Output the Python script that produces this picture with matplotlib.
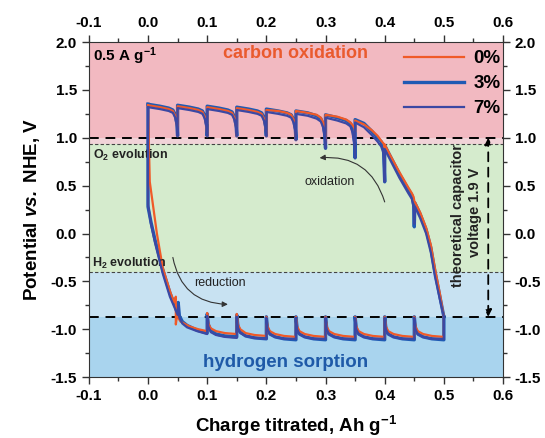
import matplotlib
matplotlib.use('Agg')
import matplotlib.pyplot as plt
from matplotlib.ticker import MultipleLocator

plt.rcParams['font.family'] = ['Liberation Sans', 'DejaVu Sans']
plt.rcParams['mathtext.fontset'] = 'custom'
plt.rcParams['mathtext.rm'] = 'Liberation Sans'
plt.rcParams['mathtext.bf'] = 'Liberation Sans:bold'
plt.rcParams['mathtext.it'] = 'Liberation Sans:italic'
plt.rcParams['mathtext.bfit'] = 'Liberation Sans:italic:bold'

# --- oxidation branch (top + right side), x grid shared by 3% and 7%
x_ox = [0.000, 0.020, 0.035, 0.042, 0.046, 0.049, 0.050,
        0.050, 0.070, 0.085, 0.092, 0.096, 0.099, 0.100,
        0.100, 0.120, 0.135, 0.142, 0.146, 0.149, 0.150,
        0.150, 0.170, 0.185, 0.192, 0.196, 0.199, 0.200,
        0.200, 0.220, 0.235, 0.242, 0.246, 0.249, 0.250,
        0.250, 0.270, 0.285, 0.292, 0.296, 0.299, 0.300,
        0.300, 0.320, 0.335, 0.342, 0.346, 0.349, 0.350,
        0.350, 0.365, 0.378, 0.388, 0.394, 0.398, 0.400,
        0.400, 0.410, 0.425, 0.440, 0.446, 0.449, 0.450,
        0.451, 0.460, 0.470, 0.478, 0.485, 0.493, 0.500]

y_ox_3 = [1.35, 1.33, 1.31, 1.29, 1.24, 1.14, 1.02,
          1.34, 1.32, 1.30, 1.28, 1.23, 1.13, 1.02,
          1.33, 1.31, 1.29, 1.27, 1.22, 1.12, 1.02,
          1.32, 1.30, 1.28, 1.26, 1.21, 1.11, 1.02,
          1.30, 1.28, 1.26, 1.24, 1.19, 1.09, 0.98,
          1.28, 1.26, 1.23, 1.20, 1.14, 1.02, 0.89,
          1.24, 1.21, 1.18, 1.15, 1.08, 0.95, 0.79,
          1.19, 1.15, 1.07, 1.00, 0.96, 0.88, 0.54,
          0.92, 0.80, 0.62, 0.46, 0.40, 0.30, 0.07,
          0.32, 0.20, 0.04, -0.15, -0.40, -0.65, -0.87]

y_ox_7 = [1.32, 1.30, 1.28, 1.26, 1.21, 1.12, 1.02,
          1.31, 1.29, 1.27, 1.25, 1.20, 1.11, 1.02,
          1.30, 1.28, 1.26, 1.24, 1.19, 1.10, 1.02,
          1.29, 1.27, 1.25, 1.23, 1.18, 1.09, 1.02,
          1.27, 1.25, 1.23, 1.21, 1.16, 1.07, 0.98,
          1.25, 1.23, 1.20, 1.17, 1.11, 1.00, 0.89,
          1.21, 1.18, 1.15, 1.12, 1.05, 0.93, 0.79,
          1.16, 1.11, 1.03, 0.96, 0.91, 0.84, 0.54,
          0.88, 0.76, 0.58, 0.42, 0.36, 0.27, 0.10,
          0.28, 0.16, 0.00, -0.20, -0.45, -0.68, -0.87]

y_ox_0 = [1.34, 1.32, 1.30, 1.28, 1.23, 1.13, 1.02,
          1.33, 1.31, 1.29, 1.27, 1.22, 1.12, 1.02,
          1.32, 1.30, 1.28, 1.26, 1.21, 1.11, 1.02,
          1.31, 1.29, 1.27, 1.25, 1.20, 1.10, 1.02,
          1.29, 1.28, 1.26, 1.24, 1.19, 1.09, 0.98,
          1.28, 1.26, 1.24, 1.21, 1.16, 1.06, 0.95,
          1.24, 1.22, 1.19, 1.16, 1.13, 1.10, 1.06,
          1.18, 1.14, 1.08, 1.02, 0.97, 0.94, 0.90,
          0.93, 0.81, 0.64, 0.48, 0.42, 0.38, 0.34,
          0.33, 0.22, 0.06, -0.12, -0.37, -0.62, -0.87]

# --- reduction branch (left side + bottom), x grid shared by 3% and 7%
x_red = [0.000, 0.000, 0.005, 0.012, 0.025, 0.037, 0.046, 0.050, 0.051, 0.053, 0.058, 0.066, 0.083, 0.100,
         0.100, 0.102, 0.106, 0.115, 0.130, 0.150,
         0.150, 0.152, 0.156, 0.165, 0.180, 0.200,
         0.200, 0.202, 0.206, 0.215, 0.230, 0.250,
         0.250, 0.252, 0.256, 0.265, 0.280, 0.300,
         0.300, 0.302, 0.306, 0.315, 0.330, 0.350,
         0.350, 0.352, 0.356, 0.365, 0.380, 0.400,
         0.400, 0.402, 0.406, 0.415, 0.430, 0.450,
         0.450, 0.452, 0.456, 0.465, 0.480, 0.500,
         0.500]

y_red_3 = [1.35, 0.28, 0.12, -0.07, -0.38, -0.62, -0.76, -0.84, -0.72, -0.86, -0.92, -0.96, -1.01, -1.04,
           -0.84, -0.95, -1.01, -1.05, -1.07, -1.08,
           -0.85, -0.97, -1.03, -1.07, -1.09, -1.10,
           -0.87, -0.99, -1.05, -1.08, -1.10, -1.11,
           -0.87, -0.99, -1.05, -1.08, -1.10, -1.11,
           -0.87, -0.99, -1.05, -1.08, -1.10, -1.11,
           -0.87, -0.99, -1.05, -1.08, -1.10, -1.11,
           -0.87, -0.99, -1.05, -1.08, -1.10, -1.11,
           -0.87, -0.99, -1.05, -1.08, -1.10, -1.11,
           -0.87]

y_red_7 = [1.32, 0.30, 0.10, -0.10, -0.42, -0.66, -0.79, -0.85, -0.75, -0.88, -0.94, -0.98, -1.02, -1.05,
           -0.86, -0.97, -1.03, -1.06, -1.08, -1.09,
           -0.87, -0.98, -1.04, -1.07, -1.09, -1.10,
           -0.88, -1.00, -1.05, -1.08, -1.10, -1.10,
           -0.88, -1.00, -1.05, -1.08, -1.10, -1.10,
           -0.88, -1.00, -1.05, -1.08, -1.10, -1.10,
           -0.88, -1.00, -1.05, -1.08, -1.10, -1.10,
           -0.88, -1.00, -1.05, -1.08, -1.10, -1.10,
           -0.88, -1.00, -1.05, -1.08, -1.10, -1.10,
           -0.87]

x_red_0 = [0.000, 0.003, 0.015, 0.025, 0.037, 0.044, 0.047, 0.047, 0.049, 0.055, 0.070, 0.085, 0.100,
           0.100, 0.102, 0.106, 0.115, 0.130, 0.150,
           0.150, 0.152, 0.156, 0.165, 0.180, 0.200,
           0.200, 0.202, 0.206, 0.215, 0.230, 0.250,
           0.250, 0.252, 0.256, 0.265, 0.280, 0.300,
           0.300, 0.302, 0.306, 0.315, 0.330, 0.350,
           0.350, 0.352, 0.356, 0.365, 0.380, 0.400,
           0.400, 0.402, 0.406, 0.415, 0.430, 0.450,
           0.450, 0.452, 0.456, 0.465, 0.480, 0.500,
           0.500]

y_red_0 = [1.34, 0.54, 0.00, -0.36, -0.60, -0.72, -0.66, -0.95, -0.86, -0.92, -0.97, -1.00, -1.02,
           -0.83, -0.94, -0.99, -1.02, -1.04, -1.05,
           -0.84, -0.95, -1.00, -1.04, -1.06, -1.07,
           -0.87, -0.97, -1.02, -1.05, -1.07, -1.08,
           -0.87, -0.97, -1.02, -1.05, -1.07, -1.08,
           -0.87, -0.97, -1.02, -1.05, -1.07, -1.08,
           -0.87, -0.97, -1.02, -1.05, -1.07, -1.08,
           -0.87, -0.97, -1.02, -1.05, -1.07, -1.08,
           -0.87, -0.97, -1.02, -1.05, -1.07, -1.08,
           -0.87]

series_labels = ['0%', '3%', '7%']
series_colors = ['#f05a28', '#1f5ab4', '#3b48a3']

xticks = [-0.1, 0.0, 0.1, 0.2, 0.3, 0.4, 0.5, 0.6]
yticks = [-1.5, -1.0, -0.5, 0.0, 0.5, 1.0, 1.5, 2.0]

fig = plt.figure(figsize=(5.45, 4.38), dpi=100)
ax = fig.add_axes([0.163, 0.139, 0.760, 0.765])

# background regions
ax.axhspan(1.0, 2.0, color='#f2b9c1', lw=0, zorder=0)
ax.axhspan(0.93, 1.0, color='#f1d3d8', lw=0, zorder=0)
ax.axhspan(-0.40, 0.93, color='#d5ebcd', lw=0, zorder=0)
ax.axhspan(-0.87, -0.40, color='#c8e2f2', lw=0, zorder=0)
ax.axhspan(-1.5, -0.87, color='#a9d4ee', lw=0, zorder=0)

ax.axhline(1.0, color='k', lw=1.4, ls=(0, (5, 3.5)), zorder=1)
ax.axhline(-0.87, color='k', lw=1.4, ls=(0, (5, 3.5)), zorder=1)
ax.axhline(0.93, color='#444444', lw=0.8, ls=(0, (3, 2)), zorder=1)
ax.axhline(-0.40, color='#444444', lw=0.8, ls=(0, (3, 2)), zorder=1)

# curves
ax.plot(x_red_0, y_red_0, color=series_colors[0], lw=1.6, zorder=3)
ax.plot(x_ox, y_ox_0, color=series_colors[0], lw=1.6, zorder=3, label=series_labels[0])
ax.plot(x_red, y_red_3, color=series_colors[1], lw=2.4, zorder=2)
ax.plot(x_ox, y_ox_3, color=series_colors[1], lw=2.4, zorder=2, label=series_labels[1])
ax.plot(x_red, y_red_7, color=series_colors[2], lw=1.6, zorder=4)
ax.plot(x_ox, y_ox_7, color=series_colors[2], lw=1.6, zorder=4, label=series_labels[2])

# texts
ax.text(-0.093, 1.85, r'0.5 A g$^{\mathbf{-1}}$', fontsize=11, fontweight='bold', va='center', ha='left')
ax.text(0.25, 1.88, 'carbon oxidation', fontsize=13, fontweight='bold', color='#ea5a2e',
        ha='center', va='center')
ax.text(0.232, -1.35, 'hydrogen sorption', fontsize=13.5, fontweight='bold', color='#1f5aa8',
        ha='center', va='center')
ax.text(-0.093, 0.82, r'O$_\mathbf{2}$ evolution', fontsize=9, fontweight='bold', ha='left', va='center',
        color='#222222')
ax.text(-0.095, -0.31, r'H$_\mathbf{2}$ evolution', fontsize=9, fontweight='bold', ha='left', va='center',
        color='#222222')
ax.text(0.307, 0.54, 'oxidation', fontsize=9, ha='center', va='center', color='#222222')
ax.text(0.122, -0.52, 'reduction', fontsize=9, ha='center', va='center', color='#222222')
ax.text(0.524, 0.19, 'theoretical capacitor', fontsize=10.5, fontweight='bold', rotation=90,
        ha='center', va='center', color='#222222')
ax.text(0.553, 0.22, 'voltage 1.9 V', fontsize=10.5, fontweight='bold', rotation=90,
        ha='center', va='center', color='#222222')

ax.annotate('', xy=(0.29, 0.79), xytext=(0.40, 0.33),
            arrowprops=dict(arrowstyle='-|>', color='#333333', lw=0.8, mutation_scale=8,
                            connectionstyle='arc3,rad=0.4', shrinkA=0, shrinkB=0))
ax.annotate('', xy=(0.135, -0.74), xytext=(0.042, -0.25),
            arrowprops=dict(arrowstyle='-|>', color='#333333', lw=0.8, mutation_scale=8,
                            connectionstyle='arc3,rad=0.4', shrinkA=0, shrinkB=0))
ax.annotate('', xy=(0.575, 1.0), xytext=(0.575, -0.87),
            arrowprops=dict(arrowstyle='<|-|>', color='k', lw=1.3, ls=(0, (5, 3.5)),
                            mutation_scale=10, shrinkA=0, shrinkB=0))

# axes
ax.set_xlim(-0.1, 0.6)
ax.set_ylim(-1.5, 2.0)
ax.set_xticks(xticks)
ax.set_yticks(yticks)
ax.set_xticklabels([f'{v:.1f}' for v in xticks])
ax.set_yticklabels([f'{v:.1f}' for v in yticks])
ax.xaxis.set_minor_locator(MultipleLocator(0.05))
ax.yaxis.set_minor_locator(MultipleLocator(0.25))
ax.tick_params(which='both', direction='out', top=True, right=True,
               labeltop=True, labelright=True, width=1, color='#333333')
ax.tick_params(which='major', length=5, labelsize=11)
ax.tick_params(which='minor', length=3)
for lab in ax.get_xticklabels() + ax.get_yticklabels():
    lab.set_fontweight('bold')
for sp in ax.spines.values():
    sp.set_color('#333333')

ax.set_xlabel(r'Charge titrated, Ah g$^{\mathbf{-1}}$', fontsize=13.5, fontweight='bold', labelpad=8)
ax.set_ylabel(r'Potential $\mathbfit{vs.}$ NHE, V', fontsize=13.5, fontweight='bold', labelpad=6)

leg = ax.legend(loc='upper right', bbox_to_anchor=(1.025, 1.015), frameon=False, handlelength=3.2,
                prop={'weight': 'bold', 'size': 13.5}, labelspacing=0.42,
                handletextpad=0.5, borderaxespad=0.3)

fig.savefig('out.png', dpi=100)
